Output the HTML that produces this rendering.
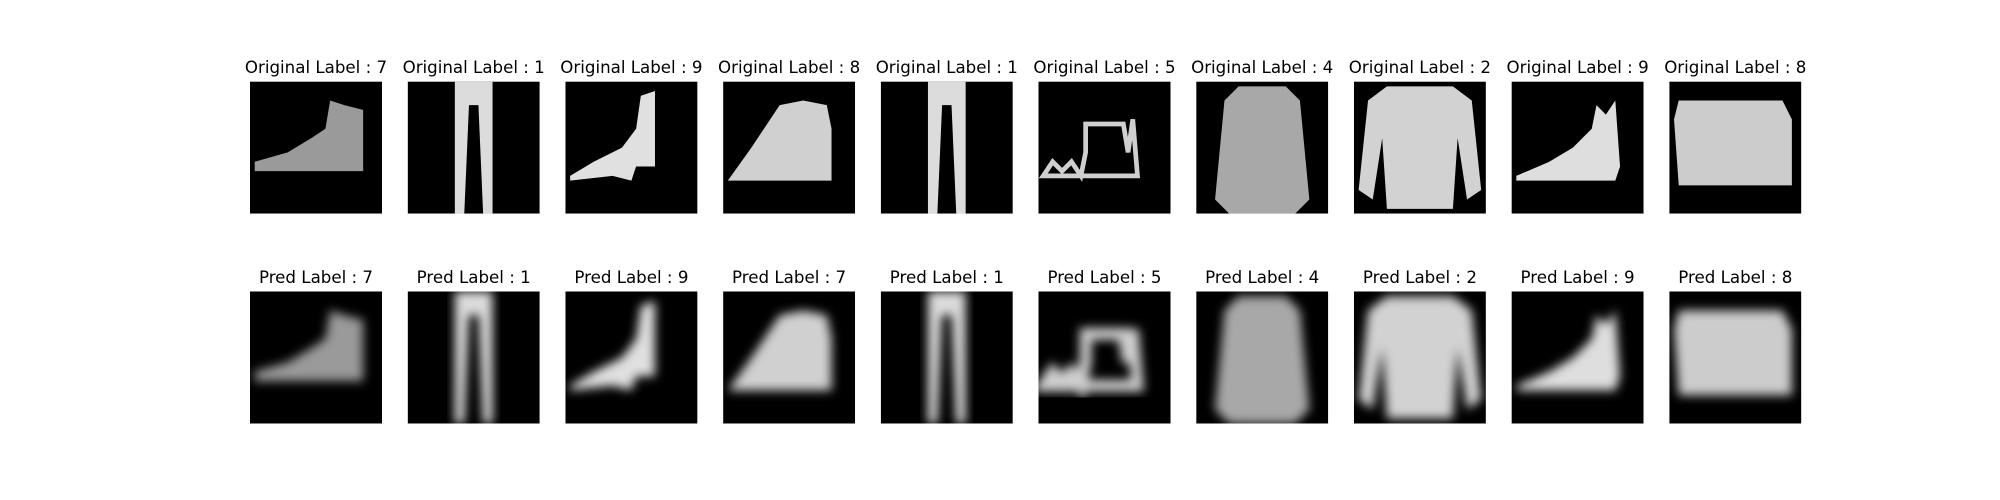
<!DOCTYPE html>
<html><head><meta charset="utf-8"><style>
html,body{margin:0;padding:0;background:#fff;width:2000px;height:500px;overflow:hidden}
svg{display:block}
text{font-family:"DejaVu Sans","Liberation Sans",sans-serif;font-size:16.67px;fill:#000}
</style></head><body>
<svg id="fig" width="2000" height="500" xmlns="http://www.w3.org/2000/svg">
<defs>
<filter id="blur" x="-20%" y="-20%" width="140%" height="140%"><feGaussianBlur stdDeviation="1.1"/></filter>
</defs>
</svg>
<script>
const origLabels = [7,1,9,8,1,5,4,2,9,8];
const predLabels = [7,1,9,7,1,5,4,2,9,8];
const shapes = [
 "1,17 8,15 13,12 16,10 17,4 20,5 24,6 24,19 1,19",
 "10,0 18,0 18,28 16,28 15,5 13,5 12,28 10,28",
 "1,20 6,17 12,14 15,10 16,3 19,2 19,18 15,18 14,21 10,20 1,21",
 "1,21 6,14 12,5 17,4 22,5 23,10 23,21 1,21",
 "10,0 18,0 18,28 16,28 15,5 13,5 12,28 10,28",
 "1,20 3,17 5,19 7,17 9,20 10,15 10,9 18,9 19,15 20,8 21,20",
 "9,1 19,1 22,4 24,25 21,28 7,28 4,25 6,4",
 "7,1 21,1 25,4 27,23 24,25 22,12 21,27 7,27 6,12 4,25 1,23 3,4",
 "1,20 8,17 13,14 17,10 18,5 20,7 22,4 23,18 22,21 1,21",
 "2,4 24,4 26,8 26,22 2,22 1,8"
];
const fills = ["#9a9a9a","#dcdcdc","#e0e0e0","#d0d0d0","#dcdcdc","#cfcfcf","#a8a8a8","#d2d2d2","#dedede","#cccccc"];
const NS="http://www.w3.org/2000/svg";
const svg=document.getElementById('fig');
const defs=svg.querySelector('defs');
const x0=250, colStep=157.7, size=132, rowTops=[81.6,291.5];
function panel(i,row){
  const x=x0+i*colStep, y=rowTops[row];
  const cid='clip'+row+'_'+i;
  const cp=document.createElementNS(NS,'clipPath');cp.setAttribute('id',cid);
  const cr=document.createElementNS(NS,'rect');
  cr.setAttribute('x',x);cr.setAttribute('y',y);cr.setAttribute('width',size);cr.setAttribute('height',size);
  cp.appendChild(cr);defs.appendChild(cp);
  const g=document.createElementNS(NS,'g');
  
  
  g.setAttribute('clip-path','url(#'+cid+')');
  const r=document.createElementNS(NS,'rect');
  r.setAttribute('x',x);r.setAttribute('y',y);r.setAttribute('width',size);r.setAttribute('height',size);
  r.setAttribute('fill','#000');
  g.appendChild(r);
  const inner=document.createElementNS(NS,'g');
  inner.setAttribute('transform',`translate(${x},${y}) scale(${size/28})`);
  const p=document.createElementNS(NS,'polygon');
  p.setAttribute('points',shapes[i]);
  const sandal = i===5;
  if(sandal){p.setAttribute('fill','none');p.setAttribute('stroke',fills[i]);p.setAttribute('stroke-width','1');}
  else p.setAttribute('fill',fills[i]);
  if(row===1){inner.setAttribute('filter','url(#blur)');if(sandal){p.setAttribute('stroke-width','2.5');}}
  inner.appendChild(p);
  g.appendChild(inner);
  const t=document.createElementNS(NS,'text');
  t.setAttribute('x',x+size/2);t.setAttribute('y',y-8.5);t.setAttribute('text-anchor','middle');
  t.textContent=(row===0?'Original Label : '+origLabels[i]:'Pred Label : '+predLabels[i]);
  
  
  svg.appendChild(g);svg.appendChild(t);
}
for(let i=0;i<origLabels.length;i++){panel(i,0);panel(i,1);}
</script>
</body></html>
